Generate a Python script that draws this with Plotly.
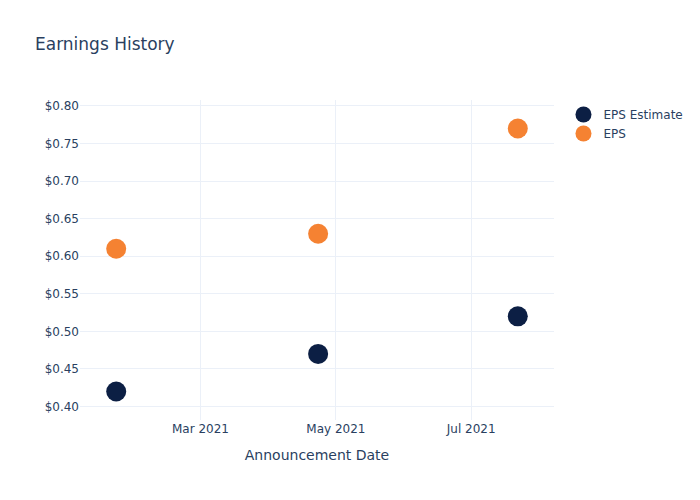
import plotly.graph_objects as go

dates = ["2021-01-22", "2021-04-23", "2021-07-22"]
eps_estimate = [0.42, 0.47, 0.52]
eps_actual = [0.61, 0.63, 0.77]

fig = go.Figure()
fig.add_trace(go.Scatter(x=dates, y=eps_estimate, mode="markers", name="EPS Estimate",
                         marker=dict(color="#0C1F44", size=20)))
fig.add_trace(go.Scatter(x=dates, y=eps_actual, mode="markers", name="EPS",
                         marker=dict(color="#F58232", size=20)))
fig.update_layout(
    template="plotly_white",
    font=dict(family="DejaVu Sans"),
    title=dict(text="Earnings History"),
    width=700, height=500,
    xaxis=dict(title=dict(text="Announcement Date"), dtick="M2", tick0="2021-01-01"),
    yaxis=dict(tickformat="$.2f"),
)
fig.write_html("out.html")
